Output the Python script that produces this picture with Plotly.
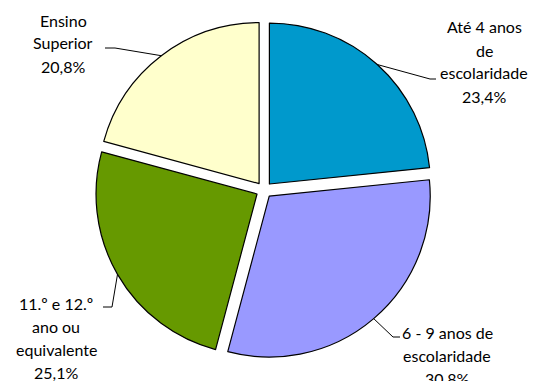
import math
import plotly.graph_objects as go

# Education level shares (%)
categories = ["Até 4 anos de escolaridade", "6 - 9 anos de escolaridade",
              "11.º e 12.º ano ou equivalente", "Ensino Superior"]
values = [23.4, 30.8, 25.1, 20.8]
label_lines = [
    ["Até 4 anos", "de", "escolaridade", "23,4%"],
    ["6 - 9 anos de", "escolaridade", "30,8%"],
    ["11.º e 12.º", "ano ou", "equivalente", "25,1%"],
    ["Ensino", "Superior", "20,8%"],
]
colors = ["#0099CC", "#9999FF", "#669900", "#FFFFCC"]

W, H = 535, 381
CX, CY, R = 264, 190, 161
PULL = 0.05
FONT = "Lato"

def px(x):
    return x / W

def py(y):
    return 1 - y / H

half = R * (1 + PULL)
fig = go.Figure(go.Pie(
    labels=categories, values=values, sort=False, direction="clockwise",
    rotation=0, pull=[PULL] * len(values), textinfo="none", hoverinfo="label+percent",
    marker=dict(colors=colors, line=dict(color="#000000", width=1.2)),
    domain=dict(x=[px(CX - half), px(CX + half)], y=[py(CY + half), py(CY - half)]),
    showlegend=False,
))

# label anchor (text centre x, first-line y) and leader elbow points per slice
label_pos = [(484, 27), (447, 332), (56, 303), (63, 20)]
elbows = [[(430, 79), (436, 79)], [(393, 337), (400, 337)],
          [(112, 307), (103, 307)], [(115, 48), (105, 48)]]
LINE_H = 23

total = sum(values)
cum = 0
shapes, annotations = [], []
for i, v in enumerate(values):
    mid = (cum + v / 2) / total * 2 * math.pi
    cum += v
    ox = CX + R * PULL * math.sin(mid)
    oy = CY - R * PULL * math.cos(mid)
    sx = ox + R * math.sin(mid)
    sy = oy - R * math.cos(mid)
    pts = [(sx, sy)] + elbows[i]
    path = "M " + " L ".join(f"{px(x)},{py(y)}" for x, y in pts)
    shapes.append(dict(type="path", xref="paper", yref="paper", path=path,
                       line=dict(color="#000000", width=1)))
    lx, ly = label_pos[i]
    for k, t in enumerate(label_lines[i]):
        annotations.append(dict(
            x=px(lx), y=py(ly + k * LINE_H), xref="paper", yref="paper",
            text=t, showarrow=False, xanchor="center", yanchor="middle",
            font=dict(family=FONT, size=16, color="#000000")))

fig.update_layout(
    width=W, height=H, margin=dict(l=0, r=0, t=0, b=0),
    paper_bgcolor="white", plot_bgcolor="white",
    shapes=shapes, annotations=annotations,
)
fig.write_html("out.html")
